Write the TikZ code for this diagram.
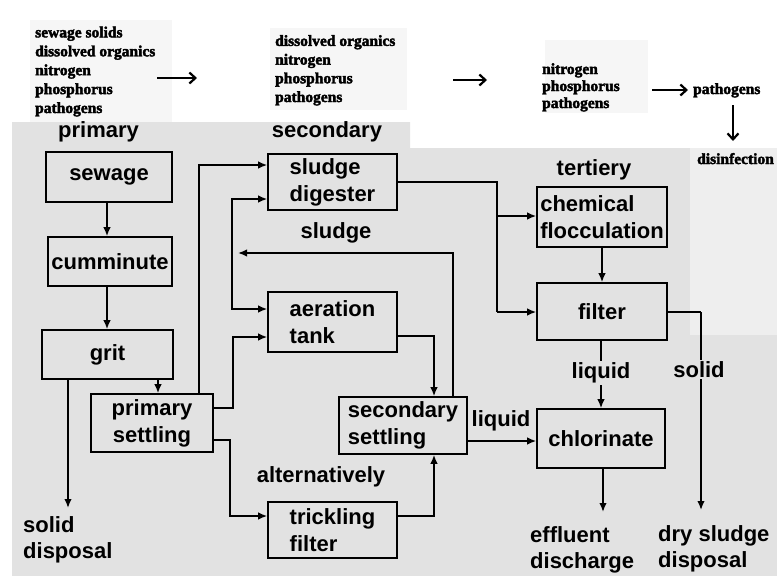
\documentclass[tikz,border=0pt]{standalone}
\usepackage{fontspec}
\setmainfont{Liberation Sans}
\newfontfamily\topfont{Liberation Serif Bold}[FakeBold=2.5]
\usetikzlibrary{arrows.meta}
\definecolor{bgc}{gray}{0.885}
\definecolor{lightbg}{gray}{0.935}
\definecolor{faintbg}{gray}{0.965}
\begin{document}
\begin{tikzpicture}[x=1pt,y=-1pt,
  box/.style={draw=black, line width=1.6pt, fill=bgc, inner sep=0pt,
    font=\fontsize{22}{27}\selectfont\bfseries, align=left},
  lbl/.style={inner sep=0pt, font=\fontsize{22}{26}\selectfont\bfseries, align=left},
  onln/.style={lbl, fill=bgc, inner sep=1.5pt},
  toptxt/.style={inner sep=0pt, align=left},
  arr/.style={line width=1.6pt, -{Latex[length=9pt,width=7.5pt]}},
  ln/.style={line width=1.6pt},
  tarr/.style={line width=2.2pt, -{Straight Barb[length=6pt,width=11pt,line width=2.2pt]}}
]
\useasboundingbox (0,0) rectangle (777,576);
% background
\fill[white] (0,0) rectangle (777,576);
\fill[faintbg] (30,20) rectangle (172,123);
\fill[faintbg] (270,28) rectangle (407,110);
\fill[faintbg] (545,40) rectangle (648,113);
\fill[bgc] (12,122) -- (410,122) -- (410,148) -- (777,148) -- (777,576) -- (12,576) -- cycle;
\fill[lightbg] (690,148) rectangle (777,335);

% top texts (base anchor = baseline of last line)
\node[toptxt, anchor=base west, font=\topfont\fontsize{15.5}{18.9}\selectfont] (tb1) at (35,113)
  {sewage solids\\dissolved organics\\nitrogen\\phosphorus\\pathogens};
\node[toptxt, anchor=base west, font=\topfont\fontsize{15.5}{18.7}\selectfont] (tb2) at (275,102)
  {dissolved organics\\nitrogen\\phosphorus\\pathogens};
\node[toptxt, anchor=base west, font=\topfont\fontsize{15.5}{17}\selectfont] (tb3) at (542,108)
  {nitrogen\\phosphorus\\pathogens};
\node[toptxt, anchor=base west, font=\topfont\fontsize{15.5}{17}\selectfont] (tb4) at (693,94) {pathogens};
\node[toptxt, anchor=base west, font=\topfont\fontsize{15.5}{17}\selectfont] (tb5) at (697,164) {disinfection};
\coordinate (t1a) at (157,78); \coordinate (t1b) at (197,78);
\coordinate (t2a) at (453,80); \coordinate (t2b) at (487,80);
\coordinate (t3a) at (652,90); \coordinate (t3b) at (688,90);
\coordinate (t4a) at (733,105); \coordinate (t4b) at (733,141);
\draw[tarr] (t1a) -- (t1b);
\draw[tarr] (t2a) -- (t2b);
\draw[tarr] (t3a) -- (t3b);
\draw[tarr] (t4a) -- (t4b);

% stage labels
\node[lbl, anchor=base] (lprim) at (98.5,137.5) {primary};
\node[lbl, anchor=base] (lsec) at (327,137.5) {secondary};
\node[lbl, anchor=base] (lter) at (594,175.5) {tertiery};
\node[lbl, anchor=base] (lsl) at (336,238.5) {sludge};
\node[lbl, anchor=base] (lalt) at (321,482.5) {alternatively};
\node[lbl, anchor=base] (lliq1) at (501,426.5) {liquid};

% boxes
\node[box, minimum width=126pt, minimum height=50pt] (sew) at (109,177) {sewage};
\node[box, minimum width=124pt, minimum height=49pt] (cum) at (110,261.5) {cumminute};
\node[box, minimum width=131pt, minimum height=49pt] (grit) at (107.5,354.5) {grit};
\node[box, minimum width=122pt, minimum height=58pt, align=center] (ps) at (152,423) {primary\\settling};
\node[box, minimum width=129pt, minimum height=56pt] (sd) at (332.5,182) {sludge\\digester};
\node[box, minimum width=129pt, minimum height=60pt] (at) at (332.5,322) {aeration\\ tank};
\node[box, minimum width=128pt, minimum height=57pt] (ss) at (403,425.5) {secondary\\settling};
\node[box, minimum width=129pt, minimum height=56pt] (tf) at (332.5,530) {trickling\\filter};
\node[box, minimum width=130pt, minimum height=60pt] (cf) at (602,217) {chemical\\flocculation};
\node[box, minimum width=130pt, minimum height=57pt] (fil) at (602,311.5) {filter};
\node[box, minimum width=128pt, minimum height=59pt] (chl) at (601,438.5) {chlorinate};

% end labels (base anchor = baseline of last line)
\node[lbl, anchor=base west] (sdisp) at (23,558.5) {solid\\disposal};
\node[lbl, anchor=base west] (eff) at (530,568.5) {effluent\\discharge};
\node[lbl, anchor=base west] (dry) at (658,567) {dry sludge\\disposal};

% helper coordinates
\coordinate (cx) at (107,0);
\coordinate (c158) at (158,0);
\coordinate (c199) at (199,0);
\coordinate (sdtip) at (68,508);
\coordinate (vl) at (232,253);
\coordinate (rt) at (238,253);
\coordinate (b1) at (233,408);
\coordinate (b2) at (230,440);
\coordinate (b3) at (434,336);
\coordinate (b4) at (434,516);
\coordinate (b6) at (497,182);
\coordinate (b7) at (497,216);
\coordinate (b8) at (497,312);
\coordinate (b9) at (701,312);
\coordinate (dtip) at (701,510);
\coordinate (etip) at (603,512);

% connectors
\draw[arr] (sew.south -| cx) -- (cum.north -| cx);
\draw[arr] (cum.south -| cx) -- (grit.north -| cx);
\draw[arr] (grit.south -| c158) -- (ps.north -| c158);
\draw[arr] (grit.south -| sdtip) -- (sdtip);
\draw[arr] (ps.north -| c199) |- ([yshift=17pt]sd.west);
\draw[arr] ([xshift=50pt]ss.north) |- (rt);
\draw[arr] (vl) |- ([yshift=-17pt]sd.west);
\draw[arr] (vl) |- ([yshift=13pt]at.west);
\draw[arr] ([yshift=15pt]ps.east) -- (b1) |- ([yshift=-15pt]at.west);
\draw[arr] ([yshift=-17pt]ps.east) -- (b2) |- ([yshift=14pt]tf.west);
\draw[arr] ([yshift=-14pt]at.east) -- (b3) -- (b3 |- ss.north);
\draw[arr] ([yshift=14pt]tf.east) -- (b4) -- (b4 |- ss.south);
\draw[arr] ([yshift=-15.5pt]ss.east) -- ([yshift=-2.5pt]chl.west);
\draw[ln] (sd.east) -- (b6) -- (b8);
\draw[arr] (b7) -- (b7 -| cf.west);
\draw[arr] (b8) -- (b8 -| fil.west);
\draw[arr] (cf) -- (cf |- fil.north);
\draw[arr] (chl.north |- fil.south) -- (chl.north);
\draw[ln] (fil.east |- b9) -- (b9);
\draw[arr] (b9) -- (dtip);
\draw[arr] (chl.south -| etip) -- (etip);

% labels on lines
\node[onln, anchor=base] (lliq2) at (601,378.5) {liquid};
\node[onln, anchor=base] (lsol) at (699,377.5) {solid};
\end{tikzpicture}
\end{document}
